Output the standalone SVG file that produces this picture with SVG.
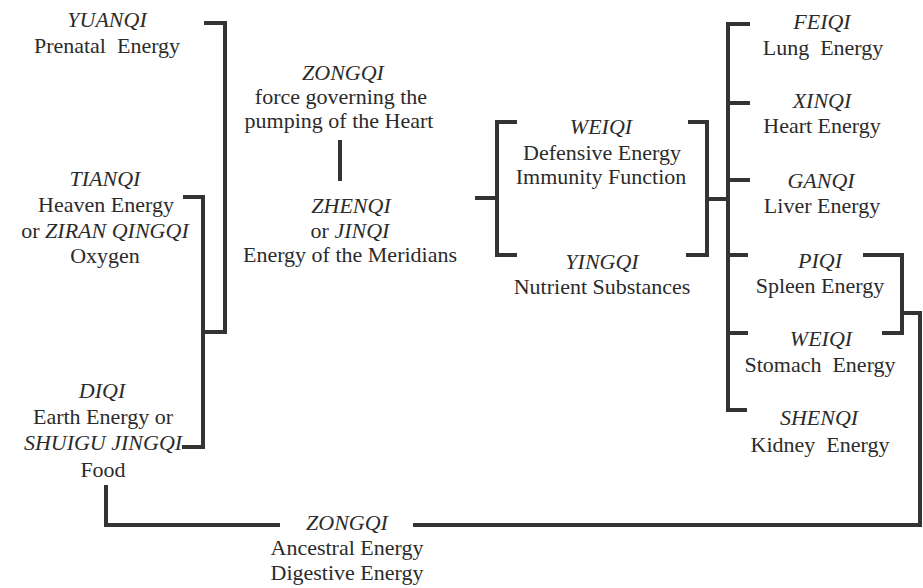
<svg xmlns="http://www.w3.org/2000/svg" width="923" height="588" viewBox="0 0 923 588">
<style>
text{font-family:"Liberation Serif","DejaVu Serif","Noto Serif",serif;font-size:22px;fill:#2b2b2b;text-anchor:middle;white-space:pre}
.i{font-style:italic}
#connectors path{fill:none;stroke:#333;stroke-width:4;stroke-linejoin:miter;stroke-linecap:butt}
</style>
<rect width="923" height="588" fill="#fff"/>
<g id="connectors">
<path d="M204,23 H225 V332 H203"/>
<path d="M183,197 H203 V447 H182"/>
<path d="M106,485 V525 H280"/>
<path d="M413,525 H920 V313 H902"/>
<path d="M863,255 H902 V333 H882"/>
<path d="M340,140 V181"/>
<path d="M517,122 H497 V255 H517"/>
<path d="M475,198 H497"/>
<path d="M688,122 H707 V255 H686"/>
<path d="M707,199 H728"/>
<path d="M750,24 H728 V410 H747"/>
<path d="M728,103 H750"/>
<path d="M728,180 H750"/>
<path d="M728,255 H748"/>
<path d="M728,333 H748"/>
</g>
<g id="yuanqi"><text class="i" x="107" y="27">YUANQI</text><text x="107" y="53">Prenatal  Energy</text></g>
<g id="tianqi"><text class="i" x="105" y="186">TIANQI</text><text x="106" y="212">Heaven Energy</text><text x="105" y="238">or <tspan class="i">ZIRAN QINGQI</tspan></text><text x="105" y="263">Oxygen</text></g>
<g id="diqi"><text class="i" x="102" y="398">DIQI</text><text x="103" y="424">Earth Energy or</text><text class="i" x="103" y="450">SHUIGU JINGQI</text><text x="103" y="477">Food</text></g>
<g id="zongqi-top"><text class="i" x="343" y="80">ZONGQI</text><text x="341" y="104">force governing the</text><text x="339" y="128">pumping of the Heart</text></g>
<g id="zhenqi"><text class="i" x="351" y="213">ZHENQI</text><text x="350" y="238">or <tspan class="i">JINQI</tspan></text><text x="350" y="262">Energy of the Meridians</text></g>
<g id="weiqi-def"><text class="i" x="601" y="134">WEIQI</text><text x="602" y="160">Defensive Energy</text><text x="601" y="184">Immunity Function</text></g>
<g id="yingqi"><text class="i" x="602" y="269">YINGQI</text><text x="602" y="294">Nutrient Substances</text></g>
<g id="feiqi"><text class="i" x="822" y="29">FEIQI</text><text x="823" y="55">Lung  Energy</text></g>
<g id="xinqi"><text class="i" x="822" y="108">XINQI</text><text x="822" y="133">Heart Energy</text></g>
<g id="ganqi"><text class="i" x="821" y="188">GANQI</text><text x="822" y="213">Liver Energy</text></g>
<g id="piqi"><text class="i" x="820" y="268">PIQI</text><text x="820" y="293">Spleen Energy</text></g>
<g id="weiqi-stomach"><text class="i" x="821" y="346">WEIQI</text><text x="820" y="372">Stomach  Energy</text></g>
<g id="shenqi"><text class="i" x="819" y="425">SHENQI</text><text x="820" y="452">Kidney  Energy</text></g>
<g id="zongqi-bottom"><text class="i" x="347" y="530">ZONGQI</text><text x="347" y="555">Ancestral Energy</text><text x="347" y="580">Digestive Energy</text></g>
</svg>
